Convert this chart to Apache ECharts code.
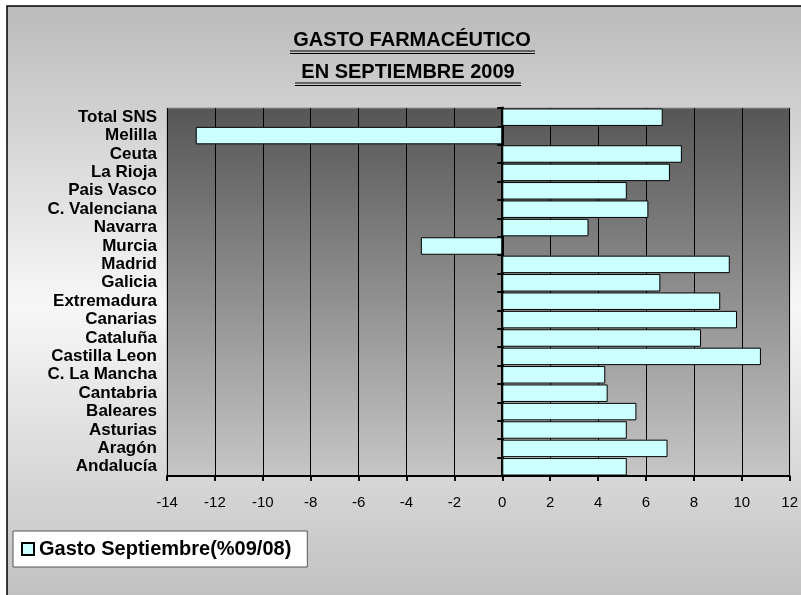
<!DOCTYPE html>
<html>
<head>
<meta charset="utf-8">
<script src="https://cdn.jsdelivr.net/npm/echarts@6/dist/echarts.min.js"></script>
<style>html,body{margin:0;padding:0;background:#fff}#c{width:801px;height:595px}</style>
</head>
<body>
<div id="c"></div>
<script>
const categories = ["Total SNS","Melilla","Ceuta","La Rioja","Pais Vasco","C. Valenciana","Navarra","Murcia","Madrid","Galicia","Extremadura","Canarias","Cataluña","Castilla Leon","C. La Mancha","Cantabria","Baleares","Asturias","Aragón","Andalucía"];
const gastoSeptiembre = [6.7,-12.8,7.5,7.0,5.2,6.1,3.6,-3.4,9.5,6.6,9.1,9.8,8.3,10.8,4.3,4.4,5.6,5.2,6.9,5.2];
const seriesName = "Gasto Septiembre(%09/08)";
const titleLines = ["GASTO FARMACÉUTICO","EN SEPTIEMBRE 2009"];
const xMin = -14, xMax = 12, xStep = 2;

const chart = echarts.init(document.getElementById('c'), null, {renderer:'canvas'});
const font = 'Liberation Sans, Arial, sans-serif';
chart.setOption({
  animation:false,
  graphic:[
    {type:'rect', z:-100, shape:{x:7,y:6,width:800,height:600},
     style:{fill:new echarts.graphic.LinearGradient(0,0,0,1,[{offset:0,color:'#bbbbbb'},{offset:0.5,color:'#f7f7f7'},{offset:1,color:'#bfbfbf'}]),stroke:'#000',lineWidth:1.5}},
    {type:'text', x:412, y:40, style:{text:titleLines[0], fontFamily:font, fontWeight:'bold', fontSize:20, fill:'#000', textAlign:'center', textVerticalAlign:'middle'}},
    {type:'line', shape:{x1:290,y1:51,x2:535,y2:51}, style:{stroke:'#000',lineWidth:1.2}},
    {type:'line', shape:{x1:290,y1:53.5,x2:535,y2:53.5}, style:{stroke:'#000',lineWidth:1.2}},
    {type:'text', x:408, y:72, style:{text:titleLines[1], fontFamily:font, fontWeight:'bold', fontSize:20, fill:'#000', textAlign:'center', textVerticalAlign:'middle'}},
    {type:'line', shape:{x1:295,y1:83,x2:521,y2:83}, style:{stroke:'#000',lineWidth:1.2}},
    {type:'line', shape:{x1:295,y1:85.5,x2:521,y2:85.5}, style:{stroke:'#000',lineWidth:1.2}}
  ],
  legend:{
    show:true, left:13, top:531, orient:'horizontal',
    backgroundColor:'#fff', borderColor:'#555', borderWidth:1,
    padding:[8,16,8,8], itemWidth:12, itemHeight:12, itemGap:4,
    icon:'rect',
    textStyle:{fontFamily:font, fontWeight:'bold', fontSize:20, color:'#000'},
    data:[seriesName]
  },
  grid:{left:167, right:3, top:108, bottom:119, show:true,
    backgroundColor:new echarts.graphic.LinearGradient(0,0,0,1,[{offset:0,color:'#565656'},{offset:1,color:'#c6c6c6'}]),
    borderColor:'#9a9a9a', borderWidth:1},
  xAxis:{type:'value', min:xMin, max:xMax, interval:xStep,
    axisLine:{show:true, onZero:false, lineStyle:{color:'#000',width:2}},
    axisTick:{show:true, length:5, lineStyle:{color:'#000',width:2}},
    axisLabel:{fontFamily:font, fontSize:15, color:'#000', margin:19},
    splitLine:{show:true, lineStyle:{color:'#000',width:1}}
  },
  yAxis:[
    {type:'category', data:categories, inverse:true, position:'left',
     axisLine:{show:false, onZero:false}, axisTick:{show:false},
     axisLabel:{interval:0, fontFamily:font, fontWeight:'bold', fontSize:17, color:'#000', margin:10}},
    {type:'category', data:categories, inverse:true, position:'left',
     axisLine:{show:true, onZero:true, lineStyle:{color:'#000',width:3}},
     axisTick:{show:true, length:5, interval:0, lineStyle:{color:'#000',width:2}},
     axisLabel:{show:false}}
  ],
  series:[{
    name:seriesName, type:'bar', yAxisIndex:0, data:gastoSeptiembre,
    barCategoryGap:'5%',
    itemStyle:{color:'#ccffff', borderColor:'#000', borderWidth:1}
  }]
});
</script>
</body>
</html>
